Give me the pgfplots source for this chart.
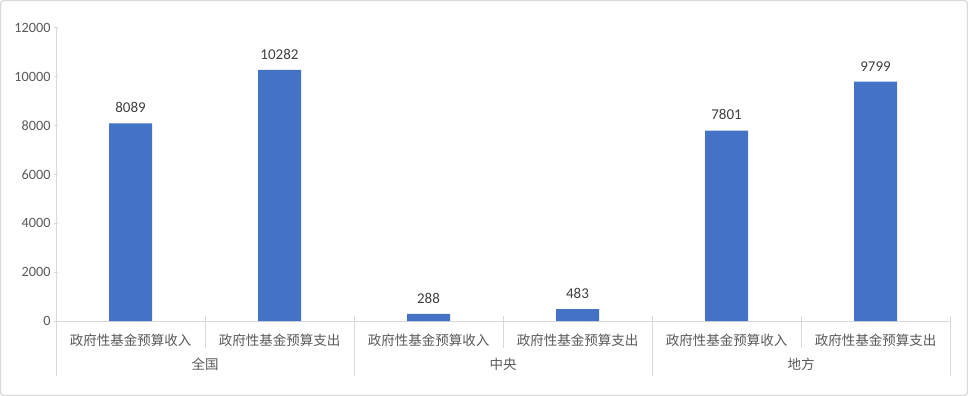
\documentclass[border=0pt]{standalone}
\usepackage{pgfplots}
\pgfplotsset{compat=1.18}
\usepackage{fontspec}
\setmainfont{Carlito}
\newfontfamily\cjk{Noto Sans CJK SC}
\definecolor{barblue}{HTML}{4472C4}
\definecolor{txt}{HTML}{595959}
\definecolor{lab}{HTML}{404040}
\definecolor{gridc}{HTML}{D9D9D9}
\begin{document}
\begin{tikzpicture}
\path[use as bounding box] (0,0) rectangle (968bp,396bp);
\draw[color=gridc, line width=1.2bp, rounded corners=3bp] (0.6bp,0.6bp) rectangle (967.4bp,395.4bp);
\begin{axis}[
  at={(56bp,75bp)}, anchor=south west,
  scale only axis, width=894bp, height=293bp,
  xmin=-0.5, xmax=5.5, ymin=0, ymax=12000,
  enlargelimits=false, clip=false,
  axis lines=left,
  axis line style={draw=gridc, line width=1bp, -},
  ytick={0,2000,...,12000},
  scaled y ticks=false,
  ytick pos=left,
  ytick style={draw=gridc, line width=1bp},
  major tick length=4bp,
  xtick={0,...,5},
  xtick style={draw=none},
  xticklabels={政府性基金预算收入,政府性基金预算支出,政府性基金预算收入,政府性基金预算支出,政府性基金预算收入,政府性基金预算支出},
  xticklabel style={font=\cjk\fontsize{13.5bp}{14bp}\selectfont, text=txt, anchor=center, yshift=-15bp},
  yticklabel style={font=\fontsize{14.2bp}{15bp}\selectfont, text=txt},
  /pgf/number format/assume math mode=true,
  /pgf/number format/1000 sep={},
  ybar, bar width=43bp,
  nodes near coords,
  nodes near coords style={font=\fontsize{15bp}{16bp}\selectfont, text=lab, yshift=7bp, /pgf/number format/1000 sep={}},
]
\addplot[fill=barblue, draw=none] coordinates {(0,8089) (1,10282) (2,288) (3,483) (4,7801) (5,9799)};
\pgfplotsinvokeforeach{-0.5,1.5,3.5,5.5}{
  \draw[gridc, line width=1bp] ([yshift=5bp]axis cs:#1,0) -- ([yshift=-55bp]axis cs:#1,0);
}
\pgfplotsinvokeforeach{0.5,2.5,4.5}{
  \draw[gridc, line width=1bp] ([yshift=5bp]axis cs:#1,0) -- ([yshift=-27bp]axis cs:#1,0);
}
\node[text=txt, font=\cjk\fontsize{13.5bp}{14bp}\selectfont] at ([yshift=-43bp]axis cs:0.5,0) {全国};
\node[text=txt, font=\cjk\fontsize{13.5bp}{14bp}\selectfont] at ([yshift=-43bp]axis cs:2.5,0) {中央};
\node[text=txt, font=\cjk\fontsize{13.5bp}{14bp}\selectfont] at ([yshift=-43bp]axis cs:4.5,0) {地方};
\end{axis}
\end{tikzpicture}
\end{document}
